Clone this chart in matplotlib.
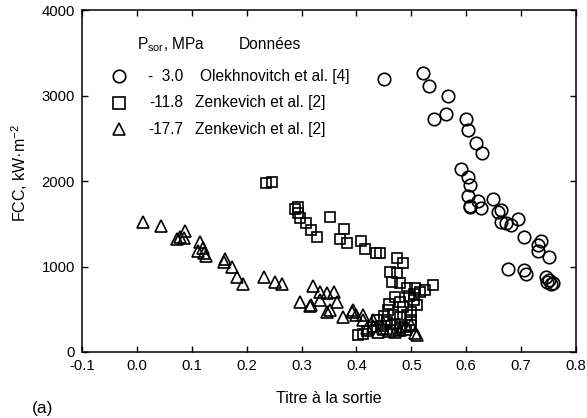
import matplotlib
matplotlib.use("Agg")
import matplotlib.pyplot as plt

plt.rcParams['font.family'] = ['Liberation Sans', 'DejaVu Sans']
plt.rcParams['mathtext.fontset'] = 'custom'
plt.rcParams['mathtext.rm'] = 'Liberation Sans'
plt.rcParams['mathtext.it'] = 'Liberation Sans'

#-------data-------
# Olekhnovitch et al. [4], P = -3.0 MPa
circ_x = [0.451, 0.522, 0.533, 0.567, 0.541, 0.563, 0.600, 0.603, 0.618, 0.628,
          0.591, 0.603, 0.606, 0.603, 0.606, 0.607, 0.622, 0.627, 0.648, 0.658,
          0.664, 0.664, 0.673, 0.682, 0.695, 0.705, 0.737, 0.730, 0.731, 0.751,
          0.676, 0.705, 0.709, 0.745, 0.750, 0.747, 0.758, 0.754]
circ_y = [3193, 3267, 3115, 2994, 2722, 2784, 2722, 2596, 2441, 2323,
          2140, 2043, 1953, 1828, 1708, 1700, 1770, 1680, 1789, 1641,
          1661, 1524, 1512, 1485, 1552, 1349, 1301, 1251, 1177, 1107,
          974, 959, 912, 881, 842, 822, 803, 790]

# Zenkevich et al. [2], P = -11.8 MPa
sq_x = [0.235, 0.246, 0.288, 0.294, 0.293, 0.297, 0.308, 0.317, 0.328, 0.352,
        0.377, 0.370, 0.383, 0.408, 0.416, 0.436, 0.442, 0.473, 0.484, 0.461,
        0.473, 0.464, 0.479, 0.492, 0.507, 0.516, 0.525, 0.539, 0.504, 0.510,
        0.470, 0.479, 0.485, 0.458, 0.467, 0.479, 0.492, 0.500, 0.403, 0.412,
        0.431, 0.449, 0.467, 0.437, 0.455, 0.445, 0.470, 0.480, 0.490, 0.500,
        0.460, 0.495, 0.505, 0.450, 0.420, 0.500]
sq_y = [1973, 1993, 1669, 1700, 1630, 1564, 1505, 1427, 1341, 1583,
        1435, 1318, 1278, 1302, 1201, 1154, 1161, 1096, 1037, 939,
        920, 822, 803, 745, 745, 705, 725, 784, 608, 550,
        647, 588, 530, 491, 433, 413, 433, 374, 199, 211,
        296, 257, 257, 374, 354, 300, 330, 280, 260, 320,
        560, 650, 680, 420, 240, 470]

# Zenkevich et al. [2], P = -17.7 MPa
tri_x = [0.012, 0.044, 0.088, 0.079, 0.073, 0.085, 0.115, 0.121, 0.112, 0.126,
         0.122, 0.161, 0.159, 0.173, 0.182, 0.194, 0.232, 0.252, 0.264, 0.297,
         0.315, 0.321, 0.334, 0.346, 0.359, 0.318, 0.334, 0.364, 0.346, 0.376,
         0.394, 0.412, 0.431, 0.449, 0.507, 0.352, 0.391, 0.400, 0.412, 0.449,
         0.510, 0.500, 0.490, 0.430, 0.460, 0.470, 0.480, 0.440, 0.420]
tri_y = [1524, 1474, 1419, 1341, 1318, 1330, 1281, 1213, 1185, 1123,
         1154, 1084, 1056, 998, 874, 795, 874, 819, 795, 588,
         538, 772, 705, 686, 705, 550, 608, 588, 471, 413,
         491, 433, 374, 335, 218, 491, 471, 433, 374, 276,
         199, 316, 300, 300, 250, 230, 260, 230, 280]

xticks = [-0.1, 0.0, 0.1, 0.2, 0.3, 0.4, 0.5, 0.6, 0.7, 0.8]
yticks = [0, 1000, 2000, 3000, 4000]

legend_p = ["-  3.0", "-11.8", "-17.7"]
legend_src = ["Olekhnovitch et al. [4]", "Zenkevich et al. [2]", "Zenkevich et al. [2]"]
markers = ["o", "s", "^"]

#-------plot-------
fig = plt.figure(figsize=(5.87, 4.18), dpi=100)
ax = fig.add_axes([0.1397, 0.1579, 0.8416, 0.8181])

mk = dict(linestyle="none", color="k", markerfacecolor="none", markeredgewidth=1.2)
ax.plot(circ_x, circ_y, marker="o", markersize=9, **mk)
ax.plot(sq_x, sq_y, marker="s", markersize=7.5, **mk)
ax.plot(tri_x, tri_y, marker="^", markersize=8.5, **mk)

ax.set_xlim(-0.1, 0.8)
ax.set_ylim(0, 4000)
ax.set_xticks(xticks)
ax.set_xticklabels(["%.1f" % v for v in xticks])
ax.set_yticks(yticks)
ax.tick_params(direction="in", length=4.5, width=1, top=True, right=True,
               labelsize=10.7, pad=5)
for s in ax.spines.values():
    s.set_linewidth(1.1)

ax.set_xlabel("Titre à la sortie", fontsize=11.5, labelpad=13)
ax.set_ylabel("FCC, kW·m$^{-2}$", fontsize=11.5, labelpad=8)
ax.yaxis.set_label_coords(-0.105, 0.523)
fig.text(0.055, 0.012, "(a)", fontsize=12.5)

# legend drawn as a small table
ax.text(0.0, 3591, r"P$_{\mathrm{sor}}$, MPa", fontsize=11.2, va="center")
ax.text(0.186, 3591, "Données", fontsize=11.2, va="center")
rows_y = [3228, 2916, 2605]
for m, p, src, yy in zip(markers, legend_p, legend_src, rows_y):
    ax.plot([-0.033], [yy], marker=m, markersize=9 if m != "s" else 8, **mk)
    ax.text(0.084, yy, p, fontsize=11.2, va="center", ha="right")
    ax.text(0.106 if src.startswith("Z") else 0.1157, yy, src, fontsize=11.2, va="center")

fig.savefig("out.png", dpi=100)
